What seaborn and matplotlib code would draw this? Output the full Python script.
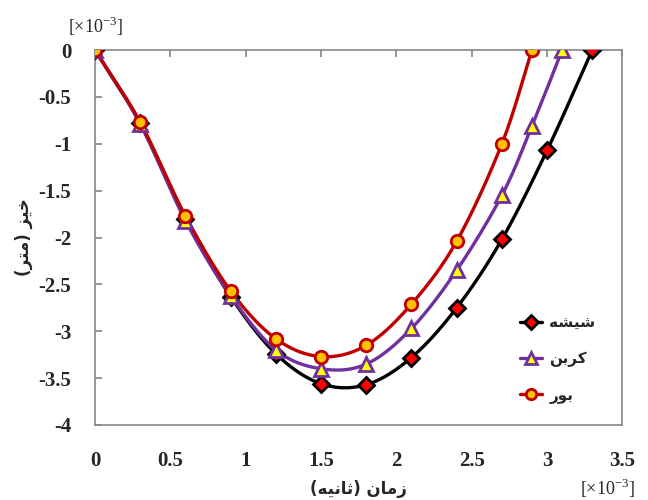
import numpy as np
import pandas as pd
import matplotlib
matplotlib.use("Agg")
import matplotlib.pyplot as plt
from matplotlib.lines import Line2D
import seaborn as sns

# ---- data (x in 1e-3 s, y in 1e-3 m) ----
x_glass = [0, 0.3, 0.6, 0.9, 1.2, 1.5, 1.8, 2.1, 2.4, 2.7, 3.0, 3.3]
y_glass = [0, -0.78, -1.80, -2.63, -3.24, -3.56, -3.57, -3.28, -2.75, -2.02, -1.07, 0]
x_carbon = [0, 0.3, 0.6, 0.9, 1.2, 1.5, 1.8, 2.1, 2.4, 2.7, 2.9, 3.1]
y_carbon = [0, -0.79, -1.82, -2.62, -3.20, -3.40, -3.35, -2.97, -2.35, -1.55, -0.81, 0]
x_boron = [0, 0.3, 0.6, 0.9, 1.2, 1.5, 1.8, 2.1, 2.4, 2.7, 2.9]
y_boron = [0, -0.77, -1.77, -2.57, -3.08, -3.27, -3.15, -2.71, -2.04, -1.00, 0]

# Persian labels (presentation forms, visual order)
lab_glass = "\uFEEA\uFEB8\uFEF4\uFEB7"          # شیشه
lab_carbon = "\uFEE6\uFE91\uFEAE\uFB90"         # کربن
lab_boron = "\uFEAD\uFEEE\uFE91"                # بور
xlabel = "(\uFEEA\uFEF4\uFEE7\uFE8E\uFE9B) \uFEE5\uFE8E\uFEE3\uFEAF"   # زمان (ثانیه)
ylabel = "(\uFEAE\uFE98\uFEE3) \uFEB0\uFEF4\uFEA7"                      # خیز (متر)

xticks = [0, 0.5, 1, 1.5, 2, 2.5, 3, 3.5]
xtick_labels = ["0", "0.5", "1", "1.5", "2", "2.5", "3", "3.5"]
yticks = [0, -0.5, -1, -1.5, -2, -2.5, -3, -3.5, -4]
ytick_labels = ["0", "-0.5", "-1", "-1.5", "-2", "-2.5", "-3", "-3.5", "-4"]

sns.set_theme(style="white")
plt.rcParams["font.family"] = ["Liberation Serif", "DejaVu Sans"]
plt.rcParams["mathtext.fontset"] = "custom"
plt.rcParams["mathtext.rm"] = "Liberation Serif"


def smooth(xs, ys, n=20):
    """Catmull-Rom smoothing for the drawn line (display only)."""
    p = np.column_stack([xs, ys]).astype(float)
    p = np.vstack([2 * p[0] - p[1], p, 2 * p[-1] - p[-2]])
    out = []
    for i in range(1, len(p) - 2):
        p0, p1, p2, p3 = p[i - 1], p[i], p[i + 1], p[i + 2]
        t = np.linspace(0, 1, n, endpoint=False)[:, None]
        seg = 0.5 * ((2 * p1) + (-p0 + p2) * t + (2 * p0 - 5 * p1 + 4 * p2 - p3) * t ** 2
                     + (-p0 + 3 * p1 - 3 * p2 + p3) * t ** 3)
        out.append(seg)
    out.append(p[-2][None, :])
    s = np.vstack(out)
    return s[:, 0], s[:, 1]


fig = plt.figure(figsize=(6.48, 5.0), dpi=100)
ax = fig.add_axes([0.1466, 0.15, 0.814, 0.75])

series = [
    (x_glass, y_glass, lab_glass, "black", "D", "red", 8.5),
    (x_carbon, y_carbon, lab_carbon, "#7030A0", "^", "#FFFF00", 9.5),
    (x_boron, y_boron, lab_boron, "#C00000", "o", "#FFC000", 9),
]

handles = []
for xs, ys, lab, col, mk, fc, ms in series:
    sx, sy = smooth(xs, ys)
    sns.lineplot(x=sx, y=sy, ax=ax, color=col, lw=2.4, sort=False, estimator=None, legend=False)
    ax.plot(xs, ys, ls="none", marker=mk, markersize=ms, markerfacecolor=fc,
            markeredgecolor=col, markeredgewidth=2.0, zorder=5)
    handles.append(Line2D([0], [0], color=col, lw=2.4, marker=mk, markersize=ms - 1.5,
                          markerfacecolor=fc, markeredgecolor=col, markeredgewidth=2.0))

ax.set_xlim(0, 3.5)
ax.set_ylim(-4, 0)
ax.set_xticks(xticks)
ax.set_xticklabels(xtick_labels)
ax.set_yticks(yticks)
ax.set_yticklabels(ytick_labels)
for lab in ax.get_xticklabels() + ax.get_yticklabels():
    lab.set_fontweight("bold")
    lab.set_fontsize(15)
    lab.set_family(["Liberation Serif"])

ax.tick_params(axis="x", top=True, bottom=False, labeltop=False, labelbottom=True,
               direction="in", length=5, color="#888888", pad=19)
ax.tick_params(axis="y", left=True, direction="in", length=5, color="#888888", pad=17)

for sp in ax.spines.values():
    sp.set_color("#888888")
    sp.set_linewidth(1.2)
    sp.set_visible(True)
ax.grid(False)

ax.set_xlabel(xlabel, family=["DejaVu Sans"], fontsize=12, fontweight="bold", labelpad=6)
ax.set_ylabel(ylabel, family=["DejaVu Sans"], fontsize=12, fontweight="bold", labelpad=4)

fig.text(0.148, 0.948, r"[$\times$10$^{\mathregular{-3}}$]", ha="center", va="center", fontsize=13)
fig.text(0.937, 0.024, r"[$\times$10$^{\mathregular{-3}}$]", ha="center", va="center", fontsize=13)

leg = ax.legend(handles, [lab_glass, lab_carbon, lab_boron], loc="lower right",
                bbox_to_anchor=(0.975, 0.02), frameon=False, handlelength=1.4,
                handletextpad=0.5, labelspacing=1.35,
                prop={"family": "DejaVu Sans", "size": 11, "weight": "bold"})

fig.savefig("out.png", dpi=100)
